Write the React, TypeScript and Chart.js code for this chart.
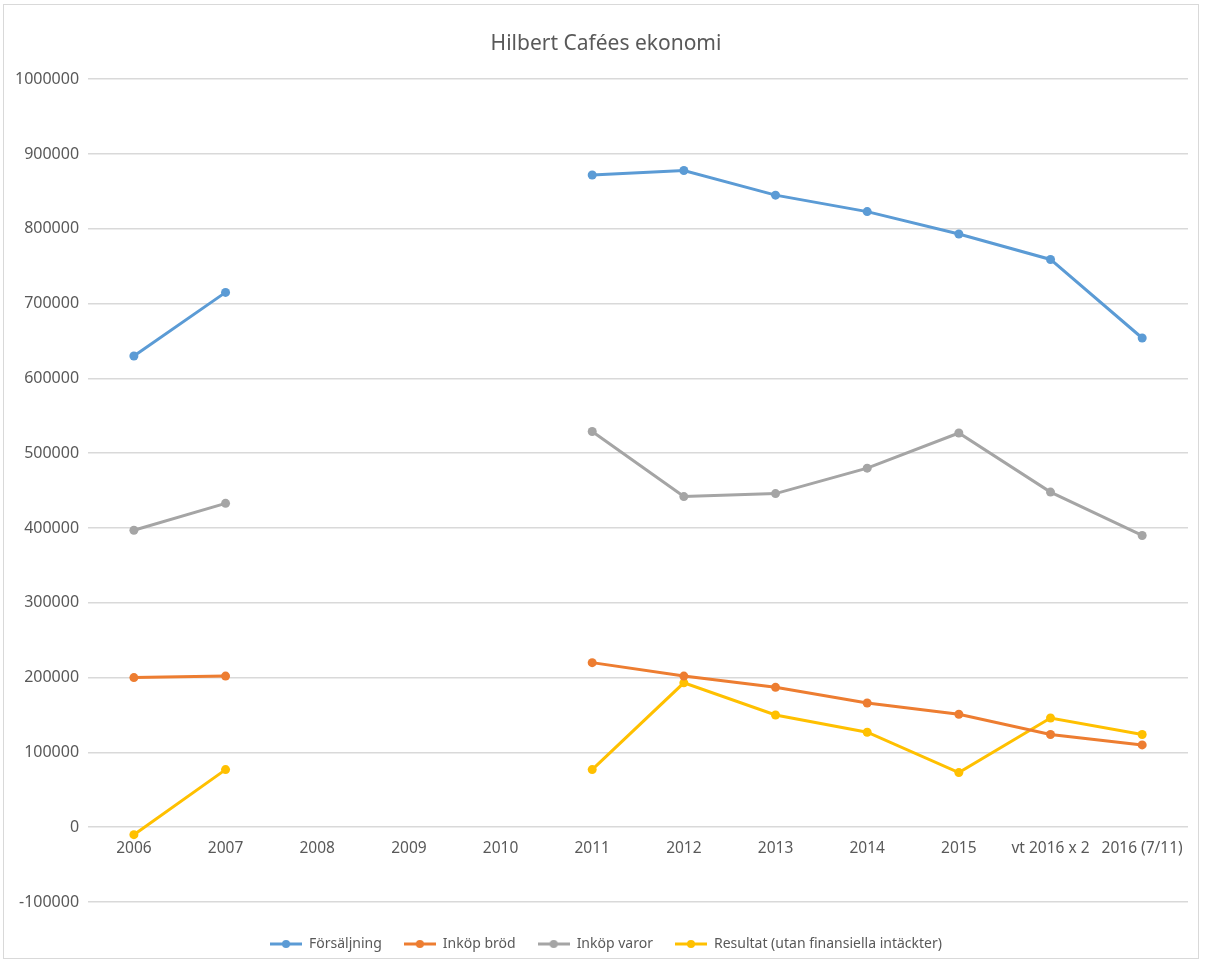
import React, { useEffect, useRef } from "react";
import { Chart, registerables } from "chart.js";

Chart.register(...registerables);

const categories = ["2006", "2007", "2008", "2009", "2010", "2011", "2012", "2013", "2014", "2015", "vt 2016 x 2", "2016 (7/11)"];
const forsaljning = [630000, 715000, null, null, null, 872000, 878000, 845000, 823000, 793000, 759000, 654000];
const inkopBrod = [200000, 202000, null, null, null, 220000, 202000, 187000, 166000, 151000, 124000, 110000];
const inkopVaror = [397000, 433000, null, null, null, 529000, 442000, 446000, 480000, 527000, 448000, 390000];
const resultat = [-10000, 77000, null, null, null, 77000, 193000, 150000, 127000, 73000, 146000, 124000];
const seriesNames = ["Försäljning", "Inköp bröd", "Inköp varor", "Resultat (utan finansiella intäckter)"];
const seriesColors = ["#5B9BD5", "#ED7D31", "#A5A5A5", "#FFC000"];
const titleText = "Hilbert Cafées ekonomi";

const FONT = "'Noto Sans', sans-serif";
const TEXT = "#595959";

function legendMarker(color: string): HTMLCanvasElement {
  const c = document.createElement("canvas");
  c.width = 32;
  c.height = 10;
  const ctx = c.getContext("2d")!;
  ctx.strokeStyle = color;
  ctx.lineWidth = 3;
  ctx.beginPath();
  ctx.moveTo(0, 5);
  ctx.lineTo(32, 5);
  ctx.stroke();
  ctx.fillStyle = color;
  ctx.beginPath();
  ctx.arc(16, 5, 4, 0, Math.PI * 2);
  ctx.fill();
  return c;
}

export default function App() {
  const ref = useRef<HTMLCanvasElement | null>(null);
  useEffect(() => {
    if (!ref.current) return;
    const markers = seriesColors.map(legendMarker);
    const all = [forsaljning, inkopBrod, inkopVaror, resultat];
    const chart = new Chart(ref.current, {
      type: "line",
      data: {
        labels: categories,
        datasets: all.map((d, i) => ({
          label: seriesNames[i],
          data: d,
          borderColor: seriesColors[i],
          backgroundColor: seriesColors[i],
          borderWidth: 3,
          pointRadius: 4.5,
          pointBorderWidth: 0,
          pointHoverRadius: 4.5,
          spanGaps: false,
          tension: 0,
        })),
      },
      options: {
        animation: false,
        responsive: true,
        maintainAspectRatio: false,
        layout: { padding: { left: 24, right: 17, top: 0, bottom: 4 } },
        plugins: {
          title: {
            display: true,
            text: titleText,
            color: TEXT,
            font: { family: FONT, size: 21, weight: "normal" },
            padding: { top: 31, bottom: 23 },
          },
          legend: {
            position: "bottom",
            title: { display: true, text: "", font: { size: 10, lineHeight: 1.3 }, padding: 0 },
            labels: {
              color: TEXT,
              font: { family: FONT, size: 14 },
              usePointStyle: true,
              pointStyleWidth: 32,
              padding: 22,
              generateLabels: (ch: any) => {
                const items = (Chart.defaults.plugins.legend.labels as any).generateLabels(ch);
                return items.map((it: any, i: number) => ({ ...it, pointStyle: markers[i] }));
              },
            },
          },
          tooltip: { enabled: false },
        },
        scales: {
          x: {
            position: { y: 0 } as any,
            offset: true,
            grid: { display: false, drawTicks: false, offset: true },
            border: { display: false },
            ticks: { color: TEXT, font: { family: FONT, size: 15.5 }, padding: 12, maxRotation: 0, autoSkip: false },
          },
          y: {
            min: -100000,
            max: 1000000,
            afterFit: (scale: any) => {
              scale.width -= 18;
              scale._computeLabelArea = () => undefined;
            },
            ticks: {
              stepSize: 100000,
              color: TEXT,
              font: { family: FONT, size: 16 },
              padding: 9,
              callback: (v: any) => String(v),
            },
            grid: { color: "#d9d9d9", lineWidth: 1.5, drawTicks: false },
            border: { display: false },
          },
        },
      },
    });
    return () => chart.destroy();
  }, []);
  return (
    <div style={{ position: "fixed", left: 0, top: 0, width: 1205, height: 965, background: "#fff" }}>
      <div style={{ position: "absolute", left: 3, top: 4, width: 1196, height: 955, border: "1px solid #d9d9d9", boxSizing: "border-box" }} />
      <canvas ref={ref} style={{ position: "absolute", left: 0, top: 0, width: 1205, height: 965 }} />
    </div>
  );
}
